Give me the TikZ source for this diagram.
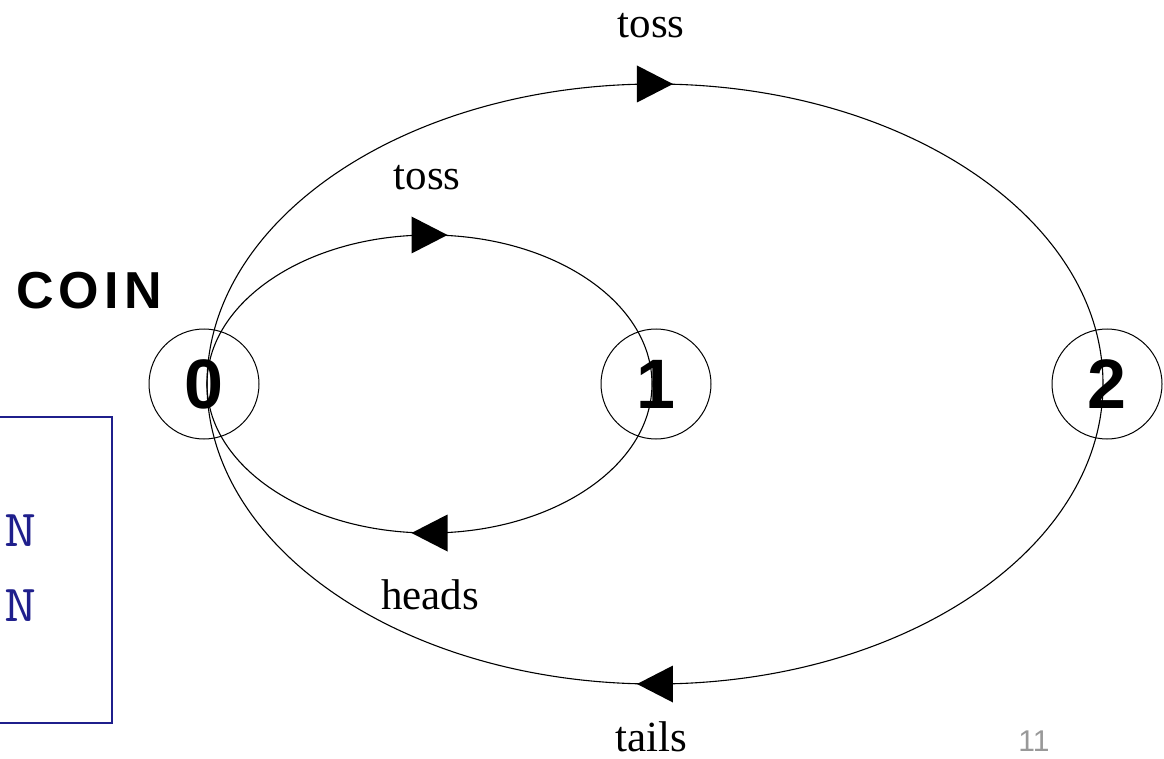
\documentclass[tikz,border=0pt]{standalone}
\usepackage{fontspec}
\setmainfont{Liberation Serif}
\newfontfamily\spacedsans[LetterSpace=10]{Liberation Sans}
\newfontfamily\digitfont{Liberation Sans}
\newfontfamily\codefont[FakeStretch=1.2]{Latin Modern Mono}
\usetikzlibrary{decorations.markings}
\definecolor{navy}{rgb}{0.12,0.12,0.55}
\definecolor{pagegray}{gray}{0.6}

\begin{document}
\begin{tikzpicture}[x=1pt,y=-1pt,
  state/.style={circle,draw,line width=1pt,minimum size=110pt,inner sep=0pt,
    font=\digitfont\bfseries\fontsize{70}{70}\selectfont},
  lbl/.style={font=\fontsize{43}{50}\selectfont,inner sep=0pt},
  codetext/.style={anchor=east,inner sep=0pt,text=navy,
    font=\codefont\fontsize{52}{52}\selectfont},
  trans/.style={line width=1.1pt,postaction={decorate},
    decoration={markings,mark=at position 0.5 with
      {\fill (-18,18.5) -- (18,0) -- (-18,-18.5) -- cycle;}}}
]
\useasboundingbox (0,0) rectangle (1164,759);
\clip (0,0) rectangle (1164,759);

% states of the coin process
\node[state] (n0) at (204,384) {0};
\node[state] (n1) at (656,384) {1};
\node[state] (n2) at (1107,384) {2};

% transitions drawn as half ellipses
\draw[trans] ([xshift=3pt]n0.center) arc[start angle=180,end angle=360,x radius=222.5,y radius=149];
\draw[trans] ([xshift=-4pt]n1.center) arc[start angle=0,end angle=180,x radius=222.5,y radius=149];
\draw[trans] ([xshift=3pt]n0.center) arc[start angle=180,end angle=360,x radius=448,y radius=300];
\draw[trans] ([xshift=-4pt]n2.center) arc[start angle=0,end angle=180,x radius=448,y radius=300];

% action labels
\node[lbl] (l1) at (427,178) {toss};
\node[lbl] (l2) at (651,26) {toss};
\node[lbl] (l3) at (430,595) {heads};
\node[lbl] (l4) at (651,737) {tails};

% process name
\node[font=\spacedsans\bfseries\fontsize{52}{52}\selectfont,inner sep=0pt] (title) at (89,291) {COIN};

% code listing box
\draw[navy,line width=2pt] (-10,417) rectangle (112,723);
\node[codetext] (c1) at (37,531) {N};
\node[codetext] (c2) at (37,606) {N};

% slide number
\node[font=\digitfont\fontsize{30}{30}\selectfont,text=pagegray,inner sep=0pt] (pg) at (1034,741) {11};
\end{tikzpicture}
\end{document}
